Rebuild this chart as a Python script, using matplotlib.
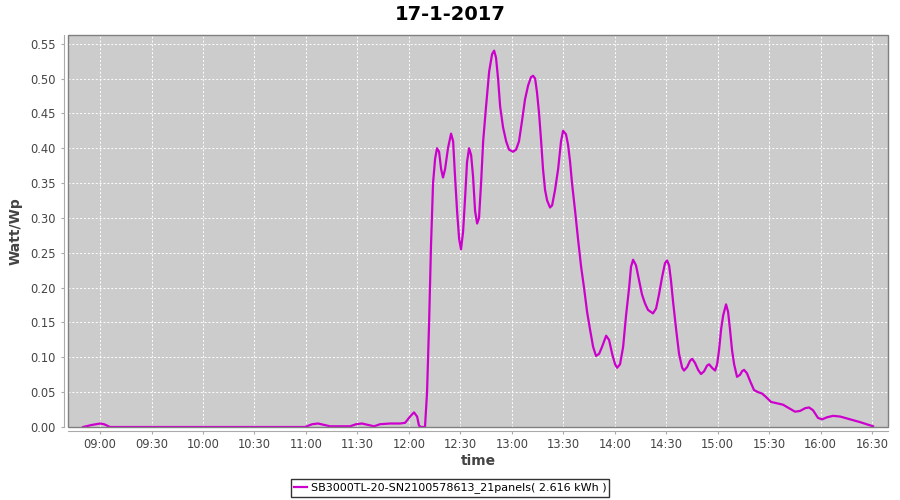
import numpy as np
import matplotlib
matplotlib.use("Agg")
import matplotlib.pyplot as plt
from matplotlib.patches import Rectangle

# time in minutes after midnight, power in Watt/Wp
minutes = [530.1, 535.3, 540.0, 542.3, 545.8, 659.5, 663.6, 667.1, 670.6, 674.1,
           685.7, 689.2, 692.7, 696.2, 699.7, 703.2, 709.0, 714.9, 717.8, 720.7,
           723.0, 724.8, 725.9, 727.1, 729.4, 730.6, 731.8, 732.9, 734.1, 735.3,
           736.4, 737.6, 738.8, 739.9, 741.1, 742.8, 744.6, 745.8, 746.9, 748.1,
           749.3, 750.4, 751.6, 752.8, 753.9, 755.1, 756.3, 757.4, 758.6, 759.8,
           760.9, 762.1, 763.3, 765.0, 766.8, 768.5, 769.7, 770.8, 772.0, 773.2,
           774.9, 776.7, 778.4, 780.7, 782.5, 784.2, 786.0, 787.7, 789.5, 791.2,
           792.4, 793.6, 794.7, 795.9, 797.1, 798.2, 799.4, 800.6, 802.3, 803.5,
           805.2, 807.0, 808.7, 809.9, 811.6, 812.8, 814.0, 815.1, 816.9, 818.6,
           820.4, 822.1, 823.9, 825.6, 827.4, 829.1, 830.9, 832.6, 835.0, 836.7,
           838.5, 840.2, 841.4, 843.1, 844.9, 846.6, 848.4, 849.5, 850.7, 852.4,
           854.2, 855.9, 857.7, 859.4, 862.3, 864.1, 865.8, 867.6, 869.3, 870.5,
           871.7, 872.8, 874.0, 875.8, 877.5, 879.3, 880.4, 882.2, 883.9, 885.1,
           886.8, 888.6, 890.3, 892.1, 893.8, 895.0, 896.7, 898.5, 899.7, 900.8,
           902.0, 903.2, 904.9, 906.1, 907.2, 908.4, 909.6, 911.3, 913.1, 914.2,
           915.4, 917.1, 918.9, 921.2, 923.6, 925.9, 928.2, 931.1, 934.6, 938.1,
           941.6, 945.1, 948.0, 951.0, 953.3, 955.6, 958.5, 960.9, 963.8, 967.3,
           971.4, 977.2, 983.0, 990.6]
watt_wp = [0.0, 0.003, 0.005, 0.004, 0.0, 0.0, 0.004, 0.005, 0.003, 0.001,
           0.001, 0.004, 0.005, 0.003, 0.001, 0.004, 0.005, 0.005, 0.006, 0.015,
           0.021, 0.015, 0.002, 0.0, 0.0, 0.05, 0.15, 0.26, 0.35, 0.385,
           0.400, 0.395, 0.37, 0.358, 0.37, 0.40, 0.421, 0.41, 0.36, 0.31,
           0.27, 0.255, 0.28, 0.33, 0.38, 0.40, 0.39, 0.36, 0.31, 0.292,
           0.30, 0.35, 0.41, 0.46, 0.51, 0.535, 0.540, 0.53, 0.50, 0.46,
           0.43, 0.41, 0.398, 0.395, 0.398, 0.41, 0.44, 0.47, 0.49, 0.502,
           0.504, 0.50, 0.48, 0.45, 0.41, 0.37, 0.34, 0.325, 0.315, 0.318,
           0.34, 0.37, 0.41, 0.425, 0.42, 0.405, 0.38, 0.35, 0.31, 0.27,
           0.23, 0.20, 0.165, 0.14, 0.115, 0.102, 0.105, 0.115, 0.131, 0.125,
           0.105, 0.09, 0.085, 0.09, 0.115, 0.16, 0.20, 0.23, 0.24, 0.232,
           0.21, 0.19, 0.177, 0.168, 0.163, 0.17, 0.19, 0.215, 0.235, 0.239,
           0.232, 0.21, 0.18, 0.14, 0.105, 0.085, 0.081, 0.086, 0.095, 0.098,
           0.092, 0.082, 0.076, 0.08, 0.088, 0.090, 0.085, 0.081, 0.09, 0.11,
           0.14, 0.16, 0.176, 0.165, 0.14, 0.11, 0.09, 0.072, 0.075, 0.08,
           0.082, 0.077, 0.066, 0.053, 0.050, 0.048, 0.043, 0.036, 0.034, 0.032,
           0.027, 0.022, 0.023, 0.027, 0.028, 0.024, 0.013, 0.011, 0.014, 0.016,
           0.015, 0.011, 0.007, 0.001]

tick_labels = ["09:00", "09:30", "10:00", "10:30", "11:00", "11:30", "12:00", "12:30",
               "13:00", "13:30", "14:00", "14:30", "15:00", "15:30", "16:00", "16:30"]
tick_minutes = [int(s[:2]) * 60 + int(s[3:]) for s in tick_labels]
y_ticks = [0.00, 0.05, 0.10, 0.15, 0.20, 0.25, 0.30, 0.35, 0.40, 0.45, 0.50, 0.55]

series_name = "SB3000TL-20-SN2100578613_21panels( 2.616 kWh )"
title = "17-1-2017"

fig = plt.figure(figsize=(9, 5), dpi=100)
ax = fig.add_axes([68 / 900, 1 - 427 / 500, 820 / 900, 392 / 500])
ax.set_facecolor("#cccccc")

line, = ax.plot(minutes, watt_wp, color="#cc00cc", linewidth=1.6, label=series_name)

ax.set_xlim(521.3, 999.3)
ax.set_ylim(0, 0.5625)
ax.set_xticks(tick_minutes)
ax.set_xticklabels(tick_labels)
ax.set_yticks(y_ticks)
ax.set_yticklabels([f"{v:.2f}" for v in y_ticks])

ax.grid(True, color="white", linestyle=(0, (2, 2)), linewidth=0.7)
ax.set_axisbelow(True)

# axis lines sit a few pixels away from the plot area, JFreeChart style
for side in ["top", "right"]:
    ax.spines[side].set_visible(False)
for side in ["left", "bottom"]:
    ax.spines[side].set_position(("outward", 3))
    ax.spines[side].set_color("#aaaaaa")
    ax.spines[side].set_linewidth(0.8)
ax.add_patch(Rectangle((0, 0), 1, 1, transform=ax.transAxes, fill=False,
                       edgecolor="#808080", linewidth=1.0, clip_on=False, zorder=5))

ax.tick_params(axis="both", colors="#aaaaaa", length=2.5, width=0.8,
               labelsize=8.3, labelcolor="#444444")
ax.tick_params(axis="x", pad=2.5)

ax.set_xlabel("time", fontsize=10, fontweight="bold", color="#444444", labelpad=2)
ax.set_ylabel("Watt/Wp", fontsize=10, fontweight="bold", color="#444444", labelpad=5)
fig.text(0.5, 1 - 14 / 500, title, ha="center", va="center",
         fontsize=14, fontweight="bold")

leg = fig.legend(handles=[line], loc="center", bbox_to_anchor=(450 / 900, 1 - 488 / 500),
                 fontsize=8, frameon=True, fancybox=False, handlelength=1.2,
                 handletextpad=0.3, borderpad=0.3, borderaxespad=0)
leg.get_frame().set_edgecolor("black")
leg.get_frame().set_linewidth(1.0)

fig.savefig("out.png", dpi=100)
